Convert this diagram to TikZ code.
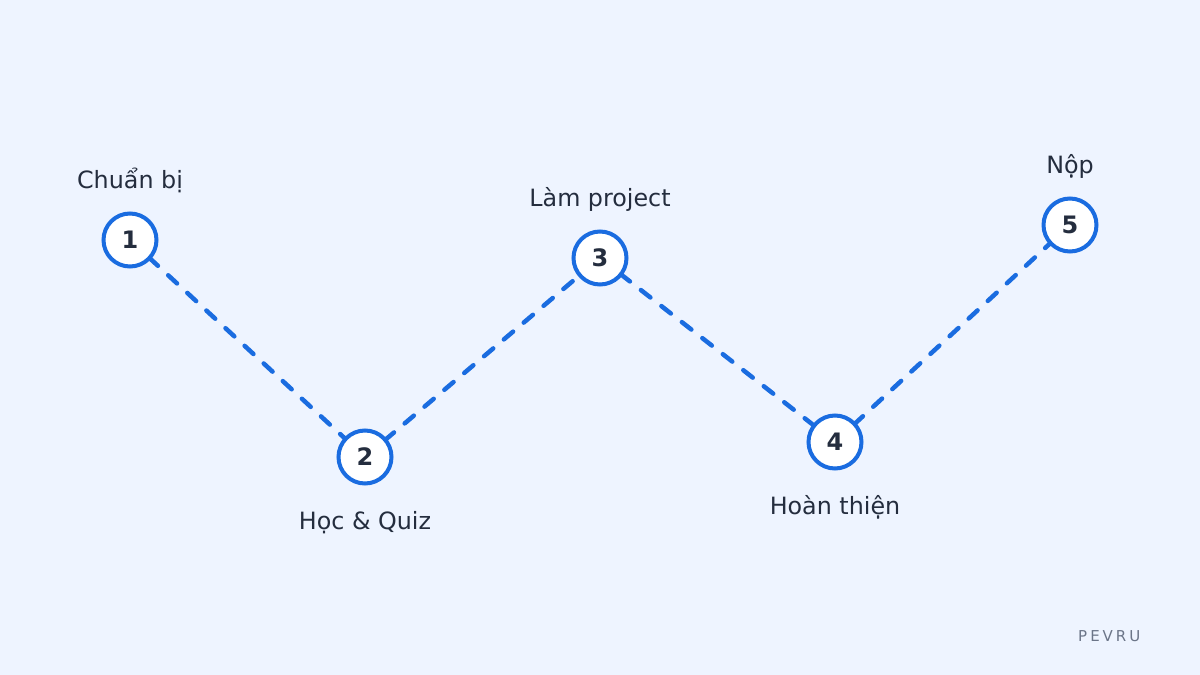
\documentclass[tikz,border=0pt]{standalone}
\usepackage{fontspec}
\setmainfont{DejaVu Sans}
\pgfdeclarelayer{backdrop}
\pgfdeclarelayer{links}
\pgfsetlayers{backdrop,links,main}
\definecolor{bgc}{RGB}{238,244,255}
\definecolor{blu}{RGB}{26,108,224}
\definecolor{ink}{RGB}{36,45,62}
\definecolor{mute}{RGB}{107,117,136}
\tikzset{
  stepnode/.style={circle, draw=blu, line width=4pt, fill=white, minimum size=53pt, inner sep=0pt,
    text=ink, font=\fontsize{24}{28}\selectfont\bfseries},
  steplabel/.style={inner sep=0pt, text=ink, font=\fontsize{23.8}{28}\selectfont},
  link/.style={draw=blu, line width=4.5pt, line cap=round, dash pattern=on 12pt off 14pt}
}
\begin{document}
\begin{tikzpicture}[x=1pt,y=-1pt]
\begin{pgfonlayer}{backdrop}
\fill[bgc] (0,0) rectangle (1200,675);
\end{pgfonlayer}
\useasboundingbox (0,0) rectangle (1200,675);
\node[stepnode] (n1) at (130,240) {1};
\node[stepnode] (n2) at (365,457) {2};
\node[stepnode] (n3) at (600,258) {3};
\node[stepnode] (n4) at (835,442) {4};
\node[stepnode] (n5) at (1070,225) {5};
\node[steplabel, anchor=base] (l1) at (130,188) {Chuẩn bị};
\node[steplabel, anchor=base] (l2) at (365,529) {Học \& Quiz};
\node[steplabel, anchor=base] (l3) at (600,206) {Làm project};
\node[steplabel, anchor=base] (l4) at (835,514) {Hoàn thiện};
\node[steplabel, anchor=base] (l5) at (1070,173) {Nộp};
\node[inner sep=0pt, anchor=base west, text=mute, font=\fontsize{15}{18}\selectfont\addfontfeature{LetterSpace=20}] (brand) at (1078,641) {PEVRU};
\begin{pgfonlayer}{links}
\draw[link] (n1.center) -- (n2.center);
\draw[link] (n2.center) -- (n3.center);
\draw[link] (n3.center) -- (n4.center);
\draw[link] (n4.center) -- (n5.center);
\end{pgfonlayer}
\end{tikzpicture}
\end{document}
